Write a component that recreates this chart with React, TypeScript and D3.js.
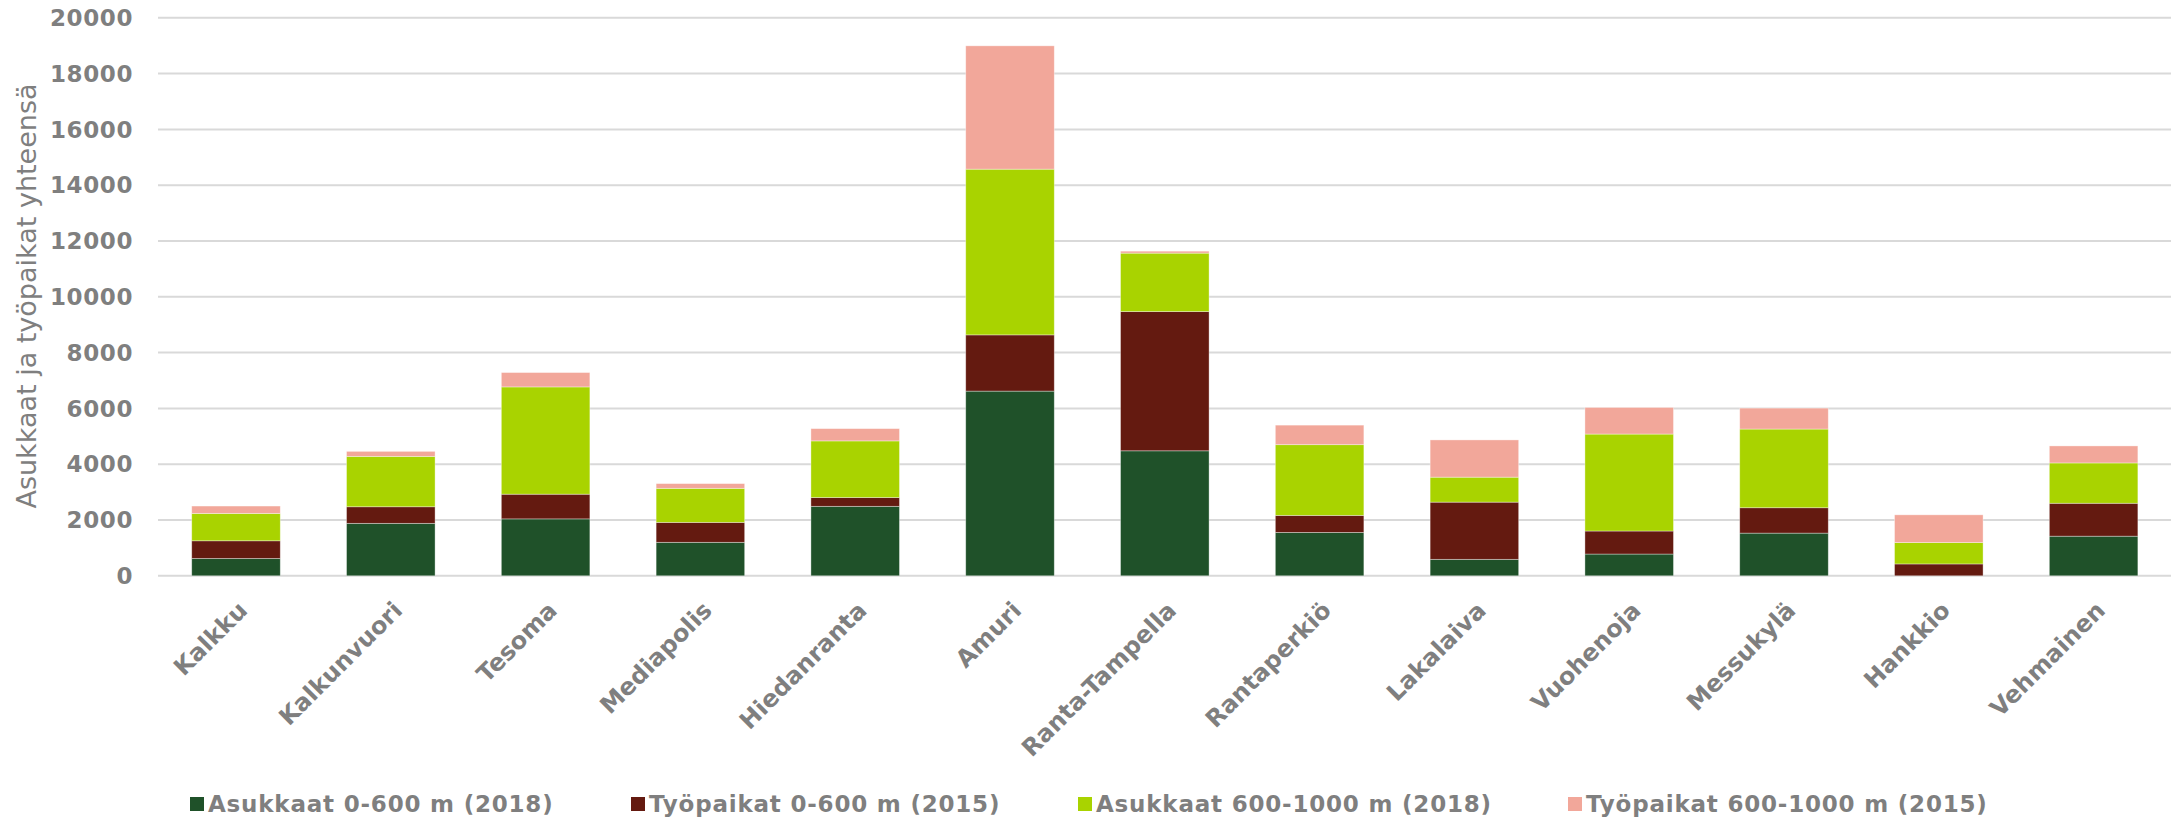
import React from "react";
import * as d3 from "d3";

// Areas along the line, left to right
const categories = [
  "Kalkku",
  "Kalkunvuori",
  "Tesoma",
  "Mediapolis",
  "Hiedanranta",
  "Amuri",
  "Ranta-Tampella",
  "Rantaperkiö",
  "Lakalaiva",
  "Vuohenoja",
  "Messukylä",
  "Hankkio",
  "Vehmainen",
];

// Residents and jobs by distance band
const asukkaat0600 = [620, 1880, 2040, 1200, 2490, 6620, 4480, 1555, 590, 780, 1530, 0, 1420];
const tyopaikat0600 = [635, 595, 885, 715, 315, 2015, 4990, 610, 2050, 825, 910, 425, 1180];
const asukkaat6001000 = [980, 1805, 3845, 1220, 2030, 5940, 2095, 2535, 895, 3475, 2820, 765, 1445];
const tyopaikat6001000 = [265, 180, 515, 170, 440, 4420, 70, 700, 1335, 955, 750, 995, 610];

const seriesNames = [
  "Asukkaat 0-600 m (2018)",
  "Työpaikat 0-600 m (2015)",
  "Asukkaat 600-1000 m (2018)",
  "Työpaikat 600-1000 m (2015)",
];
const seriesColors = ["#1f5129", "#641a10", "#a9d300", "#f2a79a"];

const yTicks = [0, 2000, 4000, 6000, 8000, 10000, 12000, 14000, 16000, 18000, 20000];

const W = 2177;
const H = 819;

export default function App() {
  const rows = categories.map((c, i) => ({
    category: c,
    s0: asukkaat0600[i],
    s1: tyopaikat0600[i],
    s2: asukkaat6001000[i],
    s3: tyopaikat6001000[i],
  }));
  const keys = ["s0", "s1", "s2", "s3"];
  const stacked = d3.stack<any>().keys(keys)(rows);

  const x = d3
    .scaleBand<string>()
    .domain(categories)
    .range([158.6, 2171])
    .paddingInner(0.428)
    .paddingOuter(0.214);
  const y = d3.scaleLinear().domain([0, 20000]).range([575.8, 17.8]);

  const grey = "#7f7f7f";
  const font = "DejaVu Sans, Verdana, sans-serif";
  const legendX = [190, 631, 1078, 1568];

  return (
    <div style={{ position: "absolute", left: 0, top: 0 }}>
      <svg width={W} height={H} style={{ display: "block", background: "#fff" }}>
        {/* horizontal gridlines */}
        {yTicks.map((t) => (
          <line
            key={"g" + t}
            x1={158}
            x2={2171}
            y1={y(t)}
            y2={y(t)}
            stroke="#d9d9d9"
            strokeWidth={2}
          />
        ))}
        {/* y tick labels */}
        {yTicks.map((t) => (
          <text
            key={"t" + t}
            x={133}
            y={y(t)}
            dy="0.36em"
            textAnchor="end"
            fontFamily={font}
            fontWeight="bold"
            fontSize={23}
            letterSpacing={0.6}
            fill={grey}
          >
            {t}
          </text>
        ))}
        {/* y axis title */}
        <text
          transform={`translate(27, 296) rotate(-90)`}
          textAnchor="middle"
          dy="0.35em"
          fontFamily={font}
          fontSize={27}
          fill={grey}
        >
          Asukkaat ja työpaikat yhteensä
        </text>
        {/* stacked bars */}
        {stacked.map((layer, si) => (
          <g key={"l" + si} fill={seriesColors[si]}>
            {layer.map((d: any) => {
              const h = y(d[0]) - y(d[1]);
              if (h <= 0) return null;
              return (
                <rect
                  key={d.data.category}
                  x={x(d.data.category)}
                  y={y(d[1])}
                  width={x.bandwidth()}
                  height={h}
                  stroke="rgba(255,255,255,0.45)"
                  strokeWidth={0.8}
                />
              );
            })}
          </g>
        ))}
        {/* category labels */}
        {categories.map((c) => {
          const cx = (x(c) as number) + x.bandwidth() / 2;
          return (
            <text
              key={"c" + c}
              transform={`translate(${cx + 7}, 606) rotate(-45)`}
              textAnchor="end"
              dy="0.35em"
              fontFamily={font}
              fontWeight="bold"
              fontSize={24}
              fill={grey}
            >
              {c}
            </text>
          );
        })}
        {/* legend */}
        {seriesNames.map((n, i) => (
          <g key={"lg" + i} transform={`translate(${legendX[i]}, 797)`}>
            <rect x={0} y={0} width={14} height={14} fill={seriesColors[i]} />
            <text
              x={18}
              y={7}
              dy="0.36em"
              fontFamily={font}
              fontWeight="bold"
              fontSize={23}
              letterSpacing={0.8}
              fill={grey}
            >
              {n}
            </text>
          </g>
        ))}
      </svg>
    </div>
  );
}
